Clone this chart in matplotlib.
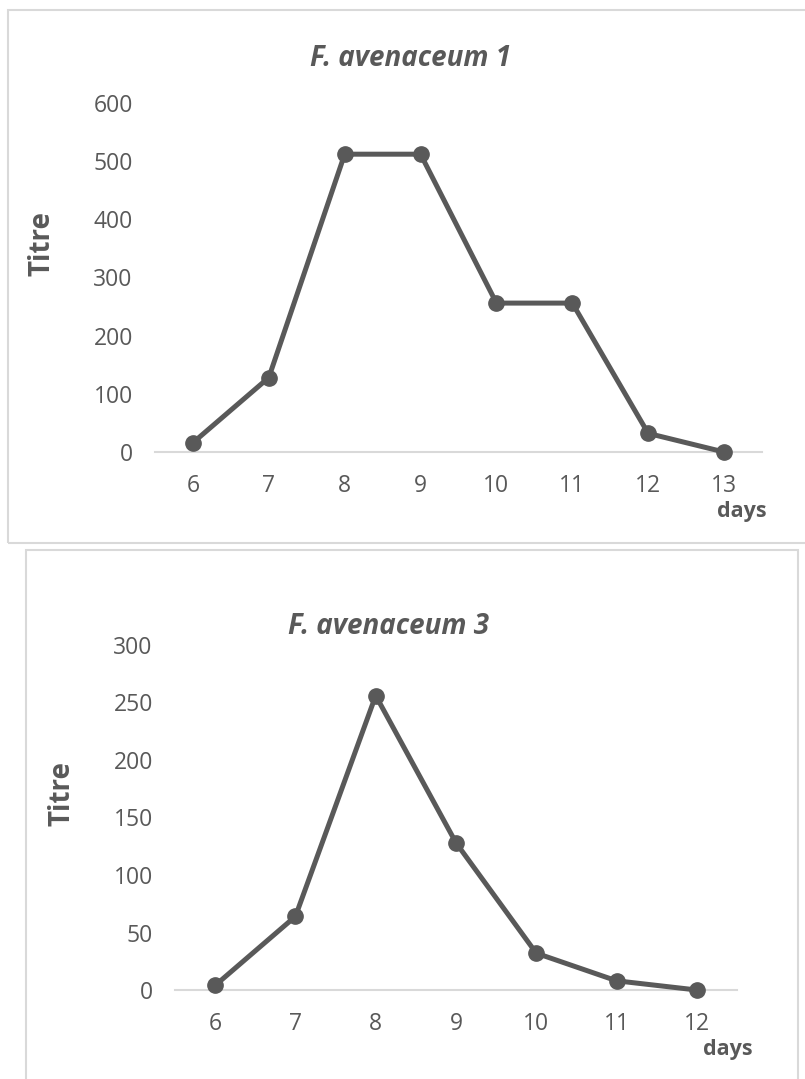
import matplotlib
matplotlib.use("Agg")
import matplotlib.pyplot as plt
from matplotlib.patches import Rectangle

days_1 = [6, 7, 8, 9, 10, 11, 12, 13]
titre_1 = [16, 128, 512, 512, 256, 256, 32, 0]
days_3 = [6, 7, 8, 9, 10, 11, 12]
titre_3 = [4, 64, 256, 128, 32, 8, 0]
yticks_1 = [0, 100, 200, 300, 400, 500, 600]
yticks_3 = [0, 50, 100, 150, 200, 250, 300]

W, H = 805, 1079
grey = "#595959"
light = "#d9d9d9"
plt.rcParams["font.family"] = ["Open Sans", "DejaVu Sans"]

fig = plt.figure(figsize=(W / 100, H / 100), dpi=100)

def fx(px):
    return px / W

def fy(py):
    return 1 - py / H

# chart borders
for x0, y0, x1, y1 in [(8, 10, 807, 543), (26, 550, 798, 1085)]:
    fig.add_artist(Rectangle((fx(x0), fy(y1)), (x1 - x0) / W, (y1 - y0) / H,
                             transform=fig.transFigure, fill=False,
                             ec=light, lw=1.5))

def panel(box, days, titre, yticks, title, title_xy, ylab_xy, days_xy):
    ax = fig.add_axes(box)
    ax.plot(days, titre, color=grey, lw=3.6, marker="o", ms=11,
            clip_on=False, zorder=3)
    ax.set_xlim(days[0] - 0.5, days[-1] + 0.5)
    ax.set_ylim(yticks[0], yticks[-1])
    ax.set_xticks(days)
    ax.set_yticks(yticks)
    for s in ["top", "right", "left"]:
        ax.spines[s].set_visible(False)
    ax.spines["bottom"].set_color(light)
    ax.spines["bottom"].set_linewidth(1.5)
    ax.tick_params(length=0, labelsize=16.5, colors=grey)
    ax.tick_params(axis="y", pad=16)
    ax.tick_params(axis="x", pad=16)
    fig.text(fx(title_xy[0]), fy(title_xy[1]), title, ha="center", va="center",
             fontsize=20, fontweight="bold", fontstyle="italic", color=grey)
    fig.text(fx(ylab_xy[0]), fy(ylab_xy[1]), "Titre", ha="center", va="center",
             rotation=90, fontsize=20, fontweight="bold", color=grey)
    fig.text(fx(days_xy[0]), fy(days_xy[1]), "days", ha="center", va="center",
             fontsize=15.5, fontweight="bold", color=grey)
    return ax

panel([fx(155), fy(452), 607 / W, 349 / H], days_1, titre_1, yticks_1,
      "F. avenaceum 1", (410, 58), (42, 243), (742, 512))
panel([fx(175), fy(990), 562 / W, 345 / H], days_3, titre_3, yticks_3,
      "F. avenaceum 3", (388, 626), (62, 793), (728, 1049))

fig.savefig("out.png", dpi=100)
